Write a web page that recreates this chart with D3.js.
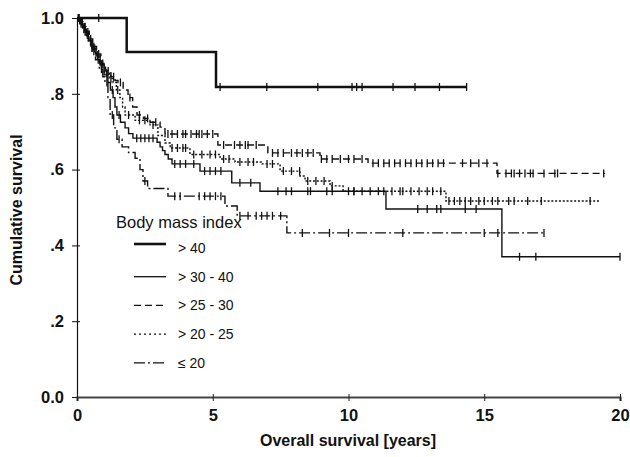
<!DOCTYPE html>
<html>
<head>
<meta charset="utf-8">
<script src="https://cdn.jsdelivr.net/npm/d3@7"></script>
<style>
  body { margin: 0; background: #fff; }
  svg { font-family: "Liberation Sans", Arial, sans-serif; }
</style>
</head>
<body>
<script>
// Kaplan-Meier Kurven nach BMI-Gruppe: [Zeit (Jahre), Überleben nach Abfall]
const groups = ["> 40", "> 30 - 40", "> 25 - 30", "> 20 - 25", "≤ 20"];

const stepsOver40 = [[0, 1.0], [1.83, 0.91], [5.12, 0.818]];
const endOver40 = 14.35;
const censOver40 = [0.8, 5.27, 6.99, 8.87, 10.13, 10.3, 10.5, 11.64, 12.45, 13.35, 14.35];

const steps30to40 = [[0, 1.0], [0.1, 0.99], [0.2, 0.975], [0.3, 0.962], [0.42, 0.94], [0.55, 0.92],
  [0.7, 0.9], [0.85, 0.876], [1.0, 0.85], [1.14, 0.83], [1.23, 0.81], [1.33, 0.79], [1.4, 0.765],
  [1.47, 0.744], [1.6, 0.725], [1.77, 0.71], [1.9, 0.695], [2.06, 0.683], [2.95, 0.672], [3.06, 0.66],
  [3.15, 0.65], [3.24, 0.64], [3.36, 0.628], [3.5, 0.615], [4.53, 0.596], [5.7, 0.565], [6.74, 0.543],
  [11.38, 0.496], [15.65, 0.37]];
const end30to40 = 20;
const cens30to40 = [0.05, 0.18, 0.35, 0.5, 0.65, 0.9, 1.1, 1.3, 1.55, 2.2, 2.35, 2.5, 2.65, 2.8,
  3.6, 3.8, 4.0, 4.3, 4.7, 4.9, 5.1, 5.3, 6.0, 6.4, 7.4, 7.7, 7.9, 8.5, 8.6, 9.2, 9.4, 10.0, 10.2,
  12.55, 12.9, 13.25, 13.4, 14.3, 14.7, 16.3, 16.9, 20];

const steps25to30 = [[0, 1.0], [0.12, 0.99], [0.22, 0.977], [0.33, 0.965], [0.45, 0.945], [0.58, 0.925],
  [0.72, 0.905], [0.88, 0.88], [1.05, 0.86], [1.25, 0.845], [1.4, 0.835], [1.51, 0.83], [1.7, 0.81],
  [1.88, 0.79], [2.05, 0.765], [2.21, 0.744], [2.45, 0.735], [2.69, 0.725], [3.06, 0.712],
  [3.24, 0.694], [5.19, 0.665], [7.03, 0.644], [8.95, 0.628], [10.72, 0.617], [15.47, 0.59]];
const end25to30 = 19.45;
const cens25to30 = [0.08, 0.2, 0.3, 0.5, 0.62, 0.8, 0.95, 1.15, 1.35, 1.6, 1.95, 2.3, 2.6, 2.9,
  3.35, 3.5, 3.7, 3.9, 4.0, 4.2, 4.4, 4.5, 4.6, 4.8, 5.0, 5.4, 5.8, 6.0, 6.2, 6.3, 6.6,
  7.2, 7.4, 7.6, 7.9, 8.1, 8.3, 8.5, 8.7, 9.0, 9.2, 9.4, 9.7, 10.0, 10.2, 10.5,
  10.9, 11.1, 11.3, 11.5, 11.7, 11.9, 12.1, 12.3, 12.5, 12.7, 12.9, 13.1, 13.3, 13.5,
  14.2, 14.5, 14.8, 15.1, 15.5, 15.8, 16.0, 16.1, 16.3, 16.5, 16.7, 16.8, 17.2, 17.6, 17.7, 19.4];

const steps20to25 = [[0, 1.0], [0.11, 0.99], [0.21, 0.976], [0.31, 0.963], [0.44, 0.942], [0.56, 0.922],
  [0.7, 0.902], [0.86, 0.878], [1.0, 0.855], [1.2, 0.84], [1.33, 0.83], [1.45, 0.81], [1.58, 0.79],
  [1.68, 0.765], [1.77, 0.744], [2.14, 0.73], [2.69, 0.718], [2.98, 0.69], [3.24, 0.67],
  [3.43, 0.657], [4.16, 0.64], [5.27, 0.628], [5.82, 0.62], [6.81, 0.615], [7.48, 0.596],
  [8.21, 0.583], [8.4, 0.57], [9.32, 0.557], [9.8, 0.543], [13.59, 0.517]];
const end20to25 = 19.26;
const cens20to25 = [0.06, 0.16, 0.28, 0.4, 0.58, 0.75, 0.92, 1.1, 1.25, 1.5, 1.9, 2.3, 2.5, 2.8,
  3.5, 3.7, 3.9, 4.0, 4.3, 4.6, 4.9, 5.1, 5.4, 5.6, 6.0, 6.3, 6.5, 7.0, 7.2, 7.6, 7.9, 8.2,
  8.5, 8.8, 9.1, 9.4, 10.2, 10.5, 10.8, 11.1, 11.3, 11.6, 11.9, 12.0, 12.3, 12.6, 12.9, 13.1, 13.4,
  13.7, 13.9, 14.1, 14.3, 14.5, 14.8, 15.0, 15.3, 15.5, 15.9, 16.1, 16.6, 17.1, 18.9];

const stepsUnder20 = [[0, 1.0], [0.1, 0.985], [0.2, 0.97], [0.3, 0.955], [0.42, 0.935], [0.55, 0.912],
  [0.68, 0.89], [0.82, 0.865], [0.95, 0.845], [1.03, 0.83], [1.14, 0.79], [1.22, 0.744],
  [1.35, 0.71], [1.47, 0.68], [1.66, 0.66], [1.9, 0.645], [2.14, 0.63], [2.32, 0.6],
  [2.43, 0.57], [2.6, 0.55], [3.35, 0.53], [5.45, 0.504], [5.9, 0.478], [7.73, 0.433]];
const endUnder20 = 17.24;
const censUnder20 = [0.05, 0.15, 0.25, 0.38, 0.5, 0.62, 0.78, 0.9, 1.1, 1.3, 1.55, 2.5,
  3.6, 3.8, 4.5, 4.7, 4.9, 5.1, 5.3, 6.0, 6.3, 6.6, 6.8, 7.0, 7.2, 7.5, 8.3, 9.3, 10.0, 12.0, 15.0, 15.5, 17.2];

const xTicks = [0, 5, 10, 15, 20];
const yTicks = [0, 0.2, 0.4, 0.6, 0.8, 1.0];
const yTickLabels = ["0.0", ".2", ".4", ".6", ".8", "1.0"];

// Stil je Gruppe
const strokeW = [2.5, 1.4, 1.4, 1.4, 1.4];
const dashes = [null, null, "7,4", "2,1.8", "11,3,2,3"];

const curves = [
  {steps: stepsOver40, end: endOver40, cens: censOver40},
  {steps: steps30to40, end: end30to40, cens: cens30to40},
  {steps: steps25to30, end: end25to30, cens: cens25to30},
  {steps: steps20to25, end: end20to25, cens: cens20to25},
  {steps: stepsUnder20, end: endUnder20, cens: censUnder20}
];

const width = 630, height = 457;
const svg = d3.select("body").append("svg")
  .attr("width", width)
  .attr("height", height);

const x = d3.scaleLinear().domain([0, 20]).range([77, 620]);
const y = d3.scaleLinear().domain([0, 1]).range([397, 18]);

// Achsen
const yAxis = svg.append("g").attr("transform", `translate(${x(0)},0)`)
  .call(d3.axisLeft(y).tickValues(yTicks).tickSize(4).tickPadding(9)
    .tickFormat((d, i) => yTickLabels[i]));
yAxis.select(".domain").attr("stroke", "#111").attr("stroke-width", 1.2);
yAxis.selectAll(".tick line").attr("x2", -5).attr("x1", 3).attr("stroke", "#111");
yAxis.selectAll(".tick text")
  .attr("font-size", 16.5).attr("font-weight", "bold").attr("fill", "#111");

const xAxis = svg.append("g").attr("transform", `translate(0,${y(0)})`)
  .call(d3.axisBottom(x).tickValues(xTicks).tickSize(4).tickPadding(8));
xAxis.select(".domain").attr("stroke", "#444").attr("stroke-width", 2.2);
xAxis.selectAll(".tick line").attr("y1", -3).attr("y2", 4).attr("stroke", "#222");
xAxis.selectAll(".tick text")
  .attr("font-size", 16.5).attr("font-weight", "bold").attr("fill", "#111");

svg.append("text")
  .attr("x", 348).attr("y", 446)
  .attr("text-anchor", "middle")
  .attr("font-size", 16).attr("font-weight", "bold").attr("fill", "#111")
  .text("Overall survival [years]");

svg.append("text")
  .attr("transform", "translate(22,210) rotate(-90)")
  .attr("text-anchor", "middle")
  .attr("font-size", 16).attr("font-weight", "bold").attr("fill", "#111")
  .text("Cumulative survival");

// Kurven
const line = d3.line()
  .x(d => x(d[0]))
  .y(d => y(d[1]))
  .curve(d3.curveStepAfter);

const survAt = (steps, t) => {
  let s = steps[0][1];
  steps.forEach(p => { if (p[0] <= t) s = p[1]; });
  return s;
};

curves.forEach((c, i) => {
  const pts = c.steps.concat([[c.end, c.steps[c.steps.length - 1][1]]]);
  svg.append("path")
    .datum(pts)
    .attr("fill", "none")
    .attr("stroke", "#111")
    .attr("stroke-width", strokeW[i])
    .attr("stroke-dasharray", dashes[i])
    .attr("d", line);

  // zensierte Fälle
  svg.append("g").selectAll("line")
    .data(c.cens)
    .join("line")
    .attr("x1", d => x(d)).attr("x2", d => x(d))
    .attr("y1", d => y(survAt(c.steps, d)) - 4)
    .attr("y2", d => y(survAt(c.steps, d)) + 4)
    .attr("stroke", "#111")
    .attr("stroke-width", 1.3);
});

// Legende
svg.append("text")
  .attr("x", 116).attr("y", 228)
  .attr("font-size", 16.5).attr("fill", "#111")
  .text("Body mass index");

const legend = svg.append("g").selectAll("g")
  .data(groups)
  .join("g")
  .attr("transform", (d, i) => `translate(0,${248 + i * 28.7})`);

legend.append("line")
  .attr("x1", 134).attr("x2", 166)
  .attr("y1", (d, i) => i === 0 ? -4 : 0).attr("y2", (d, i) => i === 0 ? -4 : 0)
  .attr("stroke", "#111")
  .attr("stroke-width", (d, i) => i === 0 ? 2.6 : 1.3)
  .attr("stroke-dasharray", (d, i) => i === 3 ? "2,3" : dashes[i]);

legend.append("text")
  .attr("x", 178).attr("y", 5)
  .attr("font-size", 14).attr("fill", "#111")
  .text(d => d);
</script>
</body>
</html>
